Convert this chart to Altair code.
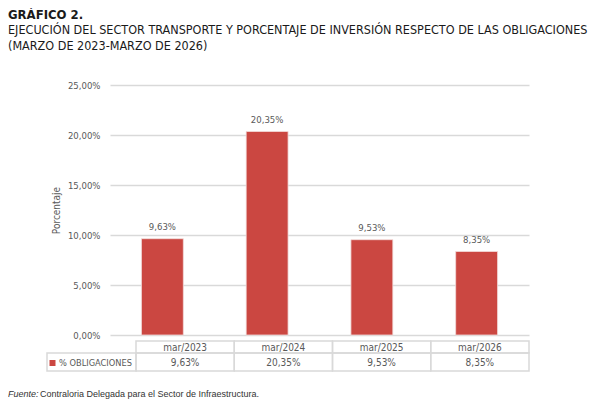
import altair as alt
import pandas as pd

# ---- data ----
periodos = ["mar/2023", "mar/2024", "mar/2025", "mar/2026"]
obligaciones = [0.0963, 0.2035, 0.0953, 0.0835]
serie = "% OBLIGACIONES"
titulo1 = "GRÁFICO 2."
titulo2 = "EJECUCIÓN DEL SECTOR TRANSPORTE Y PORCENTAJE DE INVERSIÓN RESPECTO DE LAS OBLIGACIONES"
titulo3 = "(MARZO DE 2023-MARZO DE 2026)"
fuente_lbl = "Fuente:"
fuente_txt = "Contraloria Delegada para el Sector de Infraestructura."
y_ticks = [0, 0.05, 0.10, 0.15, 0.20, 0.25]

df = pd.DataFrame({"periodo": periodos, "valor": obligaciones})

FONT = "Liberation Sans Narrow, DejaVu Sans Condensed, sans-serif"
FOOT_FONT = "Liberation Sans, Arial, sans-serif"
RED = "#cb4741"
GRAY_TXT = "#595959"
GRID = "#d9d9d9"

W, H = 419, 250

# ---- bars ----
xb = alt.X("periodo:N", sort=periodos, axis=None,
           scale=alt.Scale(paddingInner=0.6, paddingOuter=0.3))
ysc = alt.Scale(domain=[0, 0.25], nice=False)
bars = alt.Chart(df).mark_bar(color=RED, stroke="#f3dcdb", strokeWidth=0.8).encode(
    x=xb,
    y=alt.Y("valor:Q", scale=ysc,
            axis=alt.Axis(values=y_ticks, format=".2%", title="Porcentaje",
                          domain=False, ticks=False, labelPadding=10,
                          labelColor=GRAY_TXT, labelFont=FONT, labelFontSize=9.5,
                          titleFont=FONT, titleFontSize=10, titleColor=GRAY_TXT,
                          titleFontWeight="normal", titlePadding=6,
                          gridColor=GRID, gridWidth=1.5)),
)
labels = alt.Chart(df).mark_text(baseline="alphabetic", dy=-9, font=FONT,
                                 fontSize=9.5, color=GRAY_TXT).encode(
    x=xb, y=alt.Y("valor:Q", scale=ysc),
    text=alt.Text("valor:Q", format=".2%"))
bar_layer = alt.layer(bars, labels)

# ---- data table ----
xt = alt.X("periodo:N", sort=periodos, axis=None,
           scale=alt.Scale(range=[26, 419], paddingInner=0, paddingOuter=0))
hdr_cells = alt.Chart(df).mark_rect(fillOpacity=0, stroke=GRID, strokeWidth=1.5).encode(
    x=xt, y=alt.value(256), y2=alt.value(268))
val_cells = alt.Chart(df).mark_rect(fillOpacity=0, stroke=GRID, strokeWidth=1.5).encode(
    x=xt, y=alt.value(268), y2=alt.value(286))
ser_df = pd.DataFrame({"serie": [serie]})
ser_cell = alt.Chart(ser_df).mark_rect(fillOpacity=0, stroke=GRID, strokeWidth=1.5).encode(
    x=alt.value(-63), x2=alt.value(26), y=alt.value(268), y2=alt.value(286))
hdr_txt = alt.Chart(df).mark_text(baseline="middle", font=FONT, fontSize=10,
                                  color=GRAY_TXT).encode(
    x=xt, y=alt.value(262.5), text="periodo:N")
val_txt = alt.Chart(df).mark_text(baseline="middle", font=FONT, fontSize=10,
                                  color=GRAY_TXT).encode(
    x=xt, y=alt.value(278), text=alt.Text("valor:Q", format=".2%"))
ser_sq = alt.Chart(ser_df).mark_square(color=RED, size=36, opacity=1).encode(
    x=alt.value(-57.5), y=alt.value(278))
ser_txt = alt.Chart(ser_df).mark_text(align="left", baseline="middle", font=FONT,
                                      fontSize=9.2, color=GRAY_TXT).encode(
    x=alt.value(-51), y=alt.value(278), text="serie:N")
table_layer = alt.layer(hdr_cells, val_cells, ser_cell, hdr_txt, val_txt, ser_sq, ser_txt)

# ---- titles & source ----
tdf = pd.DataFrame({"t1": [titulo1], "t2": [titulo2], "t3": [titulo3],
                    "f1": [fuente_lbl], "f2": [fuente_txt]})
t1 = alt.Chart(tdf).mark_text(align="left", baseline="alphabetic", font=FONT,
                              fontSize=13, fontWeight="bold", color="#1a1a1a").encode(
    x=alt.value(-102), y=alt.value(-66), text="t1:N")
t2 = alt.Chart(tdf).mark_text(align="left", baseline="alphabetic", font=FONT,
                              fontSize=12.5, color="#1a1a1a").encode(
    x=alt.value(-102), y=alt.value(-51), text="t2:N")
t3 = alt.Chart(tdf).mark_text(align="left", baseline="alphabetic", font=FONT,
                              fontSize=12.5, color="#1a1a1a").encode(
    x=alt.value(-102), y=alt.value(-35.5), text="t3:N")
f1 = alt.Chart(tdf).mark_text(align="left", baseline="alphabetic", font=FOOT_FONT,
                              fontSize=9, fontStyle="italic", color="#333333").encode(
    x=alt.value(-102), y=alt.value(311.5), text="f1:N")
f2 = alt.Chart(tdf).mark_text(align="left", baseline="alphabetic", font=FOOT_FONT,
                              fontSize=9, color="#333333").encode(
    x=alt.value(-70), y=alt.value(311.5), text="f2:N")

chart = alt.layer(bar_layer, table_layer, t1, t2, t3, f1, f2).resolve_scale(
    x="independent"
).properties(
    width=W, height=H,
    autosize=alt.AutoSizeParams(type="none"),
    padding={"left": 102, "top": 77, "right": 64, "bottom": 64},
).configure(
    locale={"number": {"decimal": ",", "thousands": ".", "grouping": [3],
                       "currency": ["", " €"]}}
).configure_view(stroke=None)

chart.save("out.html", embed_options={"renderer": "svg", "actions": False})
